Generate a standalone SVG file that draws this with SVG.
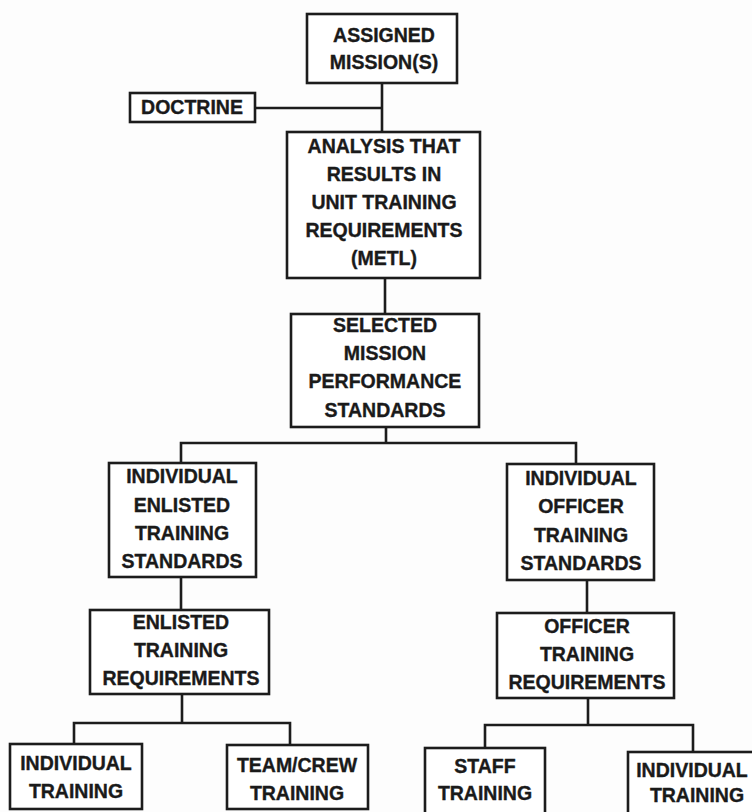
<svg xmlns="http://www.w3.org/2000/svg" width="752" height="812" viewBox="0 0 752 812">
<style>
.box{fill:#fff;stroke:#1c1c1c;stroke-width:2.6}
.ln{fill:none;stroke:#1c1c1c;stroke-width:2.6}
text{font-family:"Liberation Sans",Arial,sans-serif;font-weight:bold;font-size:19.5px;fill:#1a1a1a;stroke:#1a1a1a;stroke-width:0.35;text-anchor:middle}
</style>
<rect width="752" height="812" fill="#fdfdfd"/>
<g id="connectors">
<path class="ln" d="M382,83 V132 M255,108 H382"/>
<path class="ln" d="M385,278 V314"/>
<path class="ln" d="M386,427 V443 M181,463 V443 H576 V464"/>
<path class="ln" d="M181,577 V610"/>
<path class="ln" d="M587,580 V613"/>
<path class="ln" d="M182,694 V723 M74,744 V723 H290 V745"/>
<path class="ln" d="M588,698 V725 M485,748 V725 H693 V752"/>
</g>
<g id="assigned">
<rect class="box" x="307" y="14" width="150" height="69"/>
<text x="384" y="42">ASSIGNED</text>
<text x="384" y="69">MISSION(S)</text>
</g>
<g id="doctrine">
<rect class="box" x="130" y="93" width="125" height="29"/>
<text x="192" y="114">DOCTRINE</text>
</g>
<g id="analysis">
<rect class="box" x="287" y="132" width="193" height="146"/>
<text x="384" y="153">ANALYSIS THAT</text>
<text x="384" y="181">RESULTS IN</text>
<text x="384" y="209">UNIT TRAINING</text>
<text x="384" y="237">REQUIREMENTS</text>
<text x="384" y="265">(METL)</text>
</g>
<g id="selected">
<rect class="box" x="291" y="314" width="188" height="113"/>
<text x="385" y="332">SELECTED</text>
<text x="385" y="360">MISSION</text>
<text x="385" y="388">PERFORMANCE</text>
<text x="385" y="417">STANDARDS</text>
</g>
<g id="ind-enlisted">
<rect class="box" x="109" y="463" width="147" height="114"/>
<text x="182" y="483">INDIVIDUAL</text>
<text x="182" y="512">ENLISTED</text>
<text x="182" y="540">TRAINING</text>
<text x="182" y="568">STANDARDS</text>
</g>
<g id="ind-officer">
<rect class="box" x="507" y="464" width="147" height="116"/>
<text x="581" y="485">INDIVIDUAL</text>
<text x="581" y="513">OFFICER</text>
<text x="581" y="542">TRAINING</text>
<text x="581" y="570">STANDARDS</text>
</g>
<g id="enlisted-req">
<rect class="box" x="90" y="610" width="179" height="84"/>
<text x="181" y="629">ENLISTED</text>
<text x="181" y="657">TRAINING</text>
<text x="181" y="685">REQUIREMENTS</text>
</g>
<g id="officer-req">
<rect class="box" x="497" y="613" width="177" height="85"/>
<text x="587" y="633">OFFICER</text>
<text x="587" y="661">TRAINING</text>
<text x="587" y="689">REQUIREMENTS</text>
</g>
<g id="individual-training">
<rect class="box" x="10" y="744" width="132" height="65"/>
<text x="76" y="770">INDIVIDUAL</text>
<text x="76" y="798">TRAINING</text>
</g>
<g id="team-crew">
<rect class="box" x="227" y="745" width="141" height="64"/>
<text x="297" y="772">TEAM/CREW</text>
<text x="297" y="800">TRAINING</text>
</g>
<g id="staff">
<rect class="box" x="425" y="748" width="120" height="70"/>
<text x="485" y="773">STAFF</text>
<text x="485" y="800">TRAINING</text>
</g>
<g id="individual-training-officer">
<rect class="box" x="628" y="752" width="140" height="70"/>
<text x="692" y="777">INDIVIDUAL</text>
<text x="697" y="802">TRAINING</text>
</g>
</svg>
